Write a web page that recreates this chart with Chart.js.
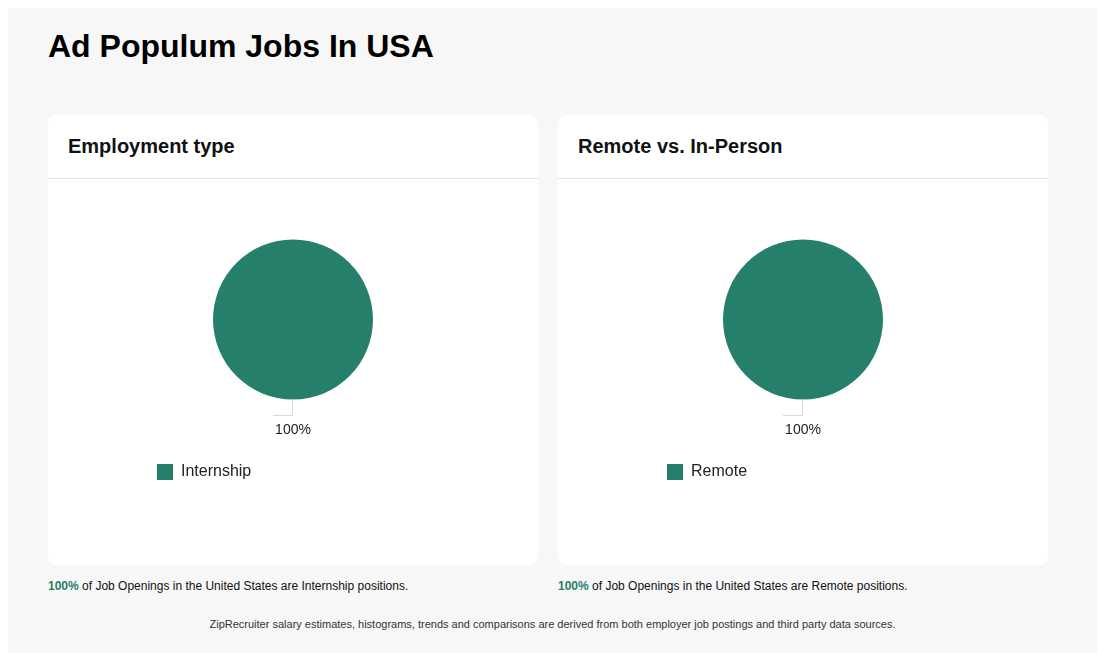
<!DOCTYPE html>
<html>
<head>
<meta charset="utf-8">
<script src="https://cdn.jsdelivr.net/npm/chart.js@4"></script>
<style>
  html, body { margin: 0; padding: 0; background: #ffffff; }
  body { font-family: "Liberation Sans", Arial, sans-serif; color: #111; }
  #wrap { position: absolute; left: 8px; top: 8px; width: 1089px; height: 660px; background: #f7f7f7; }
  h1 { position: absolute; left: 40px; top: 21px; margin: 0; font-size: 32px; font-weight: bold; color: #000; line-height: 34px; white-space: nowrap; }
  .card { position: absolute; top: 107px; width: 490px; height: 450px; background: #fff; border-radius: 8px; overflow: hidden; }
  .card .hd { position: absolute; left: 0; top: 0; width: 490px; height: 63px; border-bottom: 1px solid #e2e2e2; }
  .card .hd span { position: absolute; left: 20px; top: 19px; font-size: 20px; font-weight: bold; color: #111; line-height: 24px; white-space: nowrap; }
  .card canvas { position: absolute; left: 0; top: 64px; }
  .note { position: absolute; top: 570px; font-size: 12px; color: #111; line-height: 16px; white-space: nowrap; }
  .note b { color: #267f6b; }
  #src { position: absolute; left: 0; width: 1089px; top: 609px; text-align: center; font-size: 11px; color: #333; line-height: 14px; }
</style>
</head>
<body>
<div id="wrap">
  <h1>Ad Populum Jobs In USA</h1>
  <div class="card" style="left:40px"><div class="hd"><span>Employment type</span></div><canvas id="c1" width="490" height="386"></canvas></div>
  <div class="card" style="left:550px"><div class="hd"><span>Remote vs. In-Person</span></div><canvas id="c2" width="490" height="386"></canvas></div>
  <div class="note" id="n1" style="left:40px"></div>
  <div class="note" id="n2" style="left:550px"></div>
  <div id="src">ZipRecruiter salary estimates, histograms, trends and comparisons are derived from both employer job postings and third party data sources.</div>
</div>
<script>
const employmentTypes = ['Internship'];
const employmentShares = [100];
const workModes = ['Remote'];
const workModeShares = [100];
const sliceColors = ['#267f6b'];

const leaderLabels = {
  id: 'leaderLabels',
  afterDatasetsDraw(chart) {
    const ctx = chart.ctx;
    const ds = chart.data.datasets[0];
    const total = ds.data.reduce((a, b) => a + b, 0);
    const meta = chart.getDatasetMeta(0);
    meta.data.forEach((arc, i) => {
      const p = arc.getProps(['x', 'y', 'startAngle', 'endAngle', 'outerRadius'], true);
      const mid = (p.startAngle + p.endAngle) / 2;
      const ex = p.x + Math.cos(mid) * p.outerRadius;
      const ey = p.y + Math.sin(mid) * p.outerRadius;
      ctx.save();
      ctx.strokeStyle = '#d9d9d9';
      ctx.lineWidth = 1;
      ctx.beginPath();
      ctx.moveTo(Math.round(ex) - 0.5, ey);
      ctx.lineTo(Math.round(ex) - 0.5, Math.round(ey + 15) + 0.5);
      ctx.lineTo(Math.round(ex) - 20, Math.round(ey + 15) + 0.5);
      ctx.stroke();
      ctx.fillStyle = '#222';
      ctx.font = '14px "Liberation Sans", Arial, sans-serif';
      ctx.textAlign = 'center';
      ctx.textBaseline = 'middle';
      const pct = Math.round(ds.data[i] / total * 100);
      ctx.fillText(pct + '%', ex, ey + 30.5);
      ctx.restore();
    });
  }
};

function makePie(id, labels, values) {
  return new Chart(document.getElementById(id), {
    type: 'pie',
    data: {
      labels: labels,
      datasets: [{ data: values, backgroundColor: sliceColors, borderWidth: 0, radius: 80 }]
    },
    options: {
      responsive: false,
      animation: false,
      devicePixelRatio: 1,
      layout: { padding: { top: 6, left: 99, right: 99, bottom: 75 } },
      plugins: {
        tooltip: { enabled: false },
        legend: {
          position: 'bottom',
          align: 'start',
          labels: {
            boxWidth: 16, boxHeight: 16, padding: 10, color: '#222',
            font: { size: 16, family: '"Liberation Sans", Arial, sans-serif' }
          }
        }
      }
    },
    plugins: [leaderLabels]
  });
}

makePie('c1', employmentTypes, employmentShares);
makePie('c2', workModes, workModeShares);

function note(id, label, value) {
  const el = document.getElementById(id);
  const b = document.createElement('b');
  b.textContent = value + '%';
  el.appendChild(b);
  el.appendChild(document.createTextNode(' of Job Openings in the United States are ' + label + ' positions.'));
}
note('n1', employmentTypes[0], employmentShares[0]);
note('n2', workModes[0], workModeShares[0]);
</script>
</body>
</html>
